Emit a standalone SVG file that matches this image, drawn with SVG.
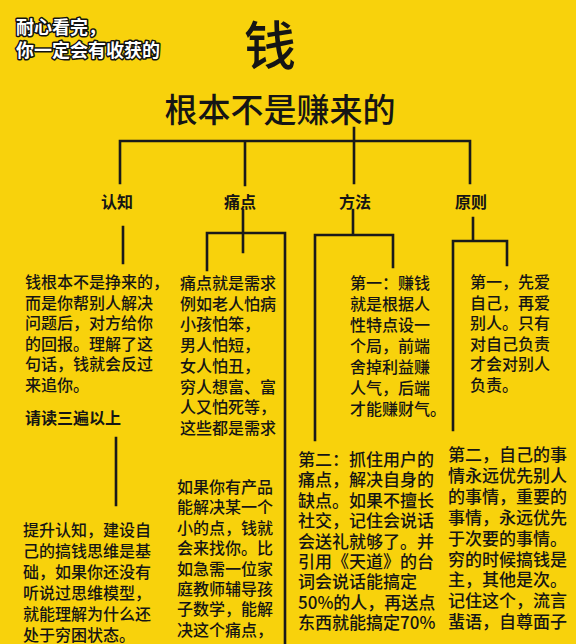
<svg xmlns="http://www.w3.org/2000/svg" width="576" height="644" viewBox="0 0 576 644">
<style>
.bg{fill:#F8D20C}
.ln{stroke:#1a1a1a;stroke-width:2.6;fill:none;stroke-linecap:square}
text{font-family:"Noto Sans CJK SC","Noto Sans",sans-serif;fill:#151515}
.hdr{font-size:18px;font-weight:bold;fill:#fff;stroke:#111;stroke-width:3;paint-order:stroke;stroke-linejoin:round}
.big{font-size:52px;font-weight:500}
.ttl{font-size:33px;font-weight:500}
.lbl{font-size:16px;font-weight:bold;text-anchor:middle}
.body{font-size:16px;font-weight:500}
.body17{font-size:17px;font-weight:500}
.bold{font-size:16px;font-weight:bold}
</style>
<rect class="bg" x="0" y="0" width="576" height="644"/>
<g id="header">
<text class="hdr" x="16" y="34">耐心看完，</text>
<text class="hdr" x="16" y="57">你一定会有收获的</text>
</g>
<g id="root">
<text class="big" x="270" y="65" text-anchor="middle">钱</text>
<text class="ttl" x="280" y="122" text-anchor="middle">根本不是赚来的</text>
</g>
<g id="connectors">
<path class="ln" d="M354 128V183M120 183V141H470V183M245 141V185"/>
<path class="ln" d="M123 227V263M116 438V505"/>
<path class="ln" d="M243 210V252M207 270V233H285V644"/>
<path class="ln" d="M353 210V235M393 267V235H315V440"/>
<path class="ln" d="M473 218V241M507 265V241H453V430"/>
</g>
<g id="n-renzhi">
<text class="lbl" x="117" y="208">认知</text>
</g>
<g id="n-tongdian">
<text class="lbl" x="240" y="208">痛点</text>
</g>
<g id="n-fangfa">
<text class="lbl" x="355" y="208">方法</text>
</g>
<g id="n-yuanze">
<text class="lbl" x="471" y="208">原则</text>
</g>
<g id="t-renzhi-1">
<text class="body" x="25" y="288">
<tspan x="25" dy="0">钱根本不是挣来的，</tspan>
<tspan x="25" dy="20.6">而是你帮别人解决</tspan>
<tspan x="25" dy="20.6">问题后，对方给你</tspan>
<tspan x="25" dy="20.6">的回报。理解了这</tspan>
<tspan x="25" dy="20.6">句话，钱就会反过</tspan>
<tspan x="25" dy="20.6">来追你。</tspan>
</text>
<text class="bold" x="25" y="424">请读三遍以上</text>
</g>
<g id="t-renzhi-2">
<text class="body" x="23" y="536">
<tspan x="23" dy="0">提升认知，建设自</tspan>
<tspan x="23" dy="21">己的搞钱思维是基</tspan>
<tspan x="23" dy="21">础，如果你还没有</tspan>
<tspan x="23" dy="21">听说过思维模型，</tspan>
<tspan x="23" dy="21">就能理解为什么还</tspan>
<tspan x="23" dy="21">处于穷困状态。</tspan>
</text>
</g>
<g id="t-tongdian-1">
<text class="body" x="180" y="289">
<tspan x="180" dy="0">痛点就是需求</tspan>
<tspan x="180" dy="20.7">例如老人怕病</tspan>
<tspan x="180" dy="20.7">小孩怕笨，</tspan>
<tspan x="180" dy="20.7">男人怕短，</tspan>
<tspan x="180" dy="20.7">女人怕丑，</tspan>
<tspan x="180" dy="20.7">穷人想富、富</tspan>
<tspan x="180" dy="20.7">人又怕死等，</tspan>
<tspan x="180" dy="20.7">这些都是需求</tspan>
</text>
</g>
<g id="t-tongdian-2">
<text class="body" x="177" y="493">
<tspan x="177" dy="0">如果你有产品</tspan>
<tspan x="177" dy="20.4">能解决某一个</tspan>
<tspan x="177" dy="20.4">小的点，钱就</tspan>
<tspan x="177" dy="20.4">会来找你。比</tspan>
<tspan x="177" dy="20.4">如急需一位家</tspan>
<tspan x="177" dy="20.4">庭教师辅导孩</tspan>
<tspan x="177" dy="20.4">子数学，能解</tspan>
<tspan x="177" dy="20.4">决这个痛点，</tspan>
</text>
</g>
<g id="t-fangfa-1">
<text class="body" x="350" y="289">
<tspan x="350" dy="0">第一：赚钱</tspan>
<tspan x="350" dy="21">就是根据人</tspan>
<tspan x="350" dy="21">性特点设一</tspan>
<tspan x="350" dy="21">个局，前端</tspan>
<tspan x="350" dy="21">舍掉利益赚</tspan>
<tspan x="350" dy="21">人气，后端</tspan>
<tspan x="350" dy="21">才能赚财气。</tspan>
</text>
</g>
<g id="t-fangfa-2">
<text class="body17" x="298" y="466">
<tspan x="298" dy="0">第二：抓住用户的</tspan>
<tspan x="298" dy="20.4">痛点，解决自身的</tspan>
<tspan x="298" dy="20.4">缺点。如果不擅长</tspan>
<tspan x="298" dy="20.4">社交，记住会说话</tspan>
<tspan x="298" dy="20.4">会送礼就够了。并</tspan>
<tspan x="298" dy="20.4">引用《天道》的台</tspan>
<tspan x="298" dy="20.4">词会说话能搞定</tspan>
<tspan x="298" dy="20.4">50%的人，再送点</tspan>
<tspan x="298" dy="20.4">东西就能搞定70%</tspan>
</text>
</g>
<g id="t-yuanze-1">
<text class="body" x="470" y="288">
<tspan x="470" dy="0">第一，先爱</tspan>
<tspan x="470" dy="20.5">自己，再爱</tspan>
<tspan x="470" dy="20.5">别人。只有</tspan>
<tspan x="470" dy="20.5">对自己负责</tspan>
<tspan x="470" dy="20.5">才会对别人</tspan>
<tspan x="470" dy="20.5">负责。</tspan>
</text>
</g>
<g id="t-yuanze-2">
<text class="body17" x="448" y="461">
<tspan x="448" dy="0">第二，自己的事</tspan>
<tspan x="448" dy="20.9">情永远优先别人</tspan>
<tspan x="448" dy="20.9">的事情，重要的</tspan>
<tspan x="448" dy="20.9">事情，永远优先</tspan>
<tspan x="448" dy="20.9">于次要的事情。</tspan>
<tspan x="448" dy="20.9">穷的时候搞钱是</tspan>
<tspan x="448" dy="20.9">主，其他是次。</tspan>
<tspan x="448" dy="20.9">记住这个，流言</tspan>
<tspan x="448" dy="20.9">蜚语，自尊面子</tspan>
</text>
</g>
</svg>
